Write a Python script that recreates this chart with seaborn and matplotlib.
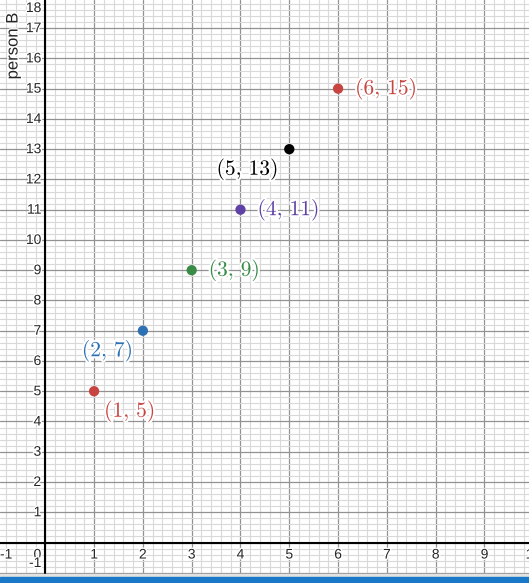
import matplotlib
matplotlib.use('Agg')
import matplotlib.pyplot as plt
import matplotlib.patheffects as pe
import seaborn as sns
import pandas as pd
from matplotlib.ticker import MultipleLocator
from matplotlib.patches import Rectangle

# ---- data ----
x_vals = [1, 2, 3, 4, 5, 6]
y_vals = [5, 7, 9, 11, 13, 15]
point_labels = [r'$(1,\,5)$', r'$(2,\,7)$', r'$(3,\,9)$', r'$(4,\,11)$', r'$(5,\,13)$', r'$(6,\,15)$']
point_colors = ['#c74440', '#2d70b3', '#388c46', '#6042a6', '#000000', '#c74440']
x_ticks = [-1, 0, 1, 2, 3, 4, 5, 6, 7, 8, 9, 10]
y_ticks = [-1, 1, 2, 3, 4, 5, 6, 7, 8, 9, 10, 11, 12, 13, 14, 15, 16, 17, 18]
y_axis_label = 'person B'

# label placement (pixel offsets, alignment)
label_place = [(10, -20, 'left'), (-10, -20, 'right'), (17, 0, 'left'),
               (17, 0, 'left'), (-11, -20, 'right'), (17, 0, 'left')]

sns.set_style('white')
plt.rcParams['mathtext.fontset'] = 'cm'
plt.rcParams['font.family'] = ['Liberation Sans', 'DejaVu Sans']

W, H = 529, 583
fig = plt.figure(figsize=(W / 100, H / 100), dpi=100)
plot_bottom_px = 574
ax = fig.add_axes([0, (H - plot_bottom_px) / H, 1, plot_bottom_px / H])

df = pd.DataFrame({'x': x_vals, 'y': y_vals, 'label': point_labels})
sns.scatterplot(data=df, x='x', y='y', hue='label', palette=point_colors,
                s=55, edgecolor='none', legend=False, ax=ax, zorder=5)

ax.set_xlim(-0.928, 9.912)
ax.set_ylim(-1.04, 17.93)
ax.xaxis.set_major_locator(MultipleLocator(1))
ax.yaxis.set_major_locator(MultipleLocator(1))
ax.xaxis.set_minor_locator(MultipleLocator(0.2))
ax.yaxis.set_minor_locator(MultipleLocator(0.2))
ax.grid(which='minor', color='#d9d9d9', lw=0.8, zorder=0)
ax.grid(which='major', color='#929292', lw=0.9, zorder=1)
ax.set_axisbelow(True)
ax.tick_params(which='both', length=0, labelbottom=False, labelleft=False)
for s in ax.spines.values():
    s.set_visible(False)
ax.set_xlabel('')
ax.set_ylabel('')
ax.axhline(0, color='black', lw=1.5, zorder=2)
ax.axvline(0, color='black', lw=1.5, zorder=2)

pt = 0.72  # points per pixel at 100 dpi
xl, xr = ax.get_xlim()
yb, yt = ax.get_ylim()
halo_small = [pe.withStroke(linewidth=2, foreground='white')]
halo = [pe.withStroke(linewidth=3, foreground='white')]

# x tick labels
for v in x_ticks:
    if v == 0:
        ax.annotate('0', xy=(0, 0), xytext=(-4 * pt, -12 * pt), textcoords='offset points',
                    ha='right', va='center', fontsize=10, path_effects=halo_small)
        continue
    xv = v
    ha = 'center'
    if v < xl:
        xv = xl
        ha = 'left'
    ax.annotate(str(v), xy=(xv, 0), xytext=(0, -12 * pt), textcoords='offset points',
                ha=ha, va='center', fontsize=10, annotation_clip=False,
                path_effects=halo_small)

# y tick labels
for v in y_ticks:
    yv = v
    dy = 0
    if v > yt - 0.2:
        yv = yt
        dy = -8
    if v < yb + 0.2:
        yv = yb
        dy = 11
    ax.annotate(str(v), xy=(0, yv), xytext=(-4 * pt, dy * pt), textcoords='offset points',
                ha='right', va='center', fontsize=10, annotation_clip=False,
                path_effects=halo_small)

# point labels
for xv, yv, lab, col, (dx, dy, ha) in zip(x_vals, y_vals, point_labels, point_colors, label_place):
    ax.annotate(lab, xy=(xv, yv), xytext=(dx * pt, dy * pt), textcoords='offset points',
                ha=ha, va='center', fontsize=15.5, color=col, zorder=6, path_effects=halo)

# axis title
fig.text(13 / W, 1 - 46 / H, y_axis_label, rotation=90, ha='center', va='center', fontsize=12,
         path_effects=halo_small)

# bottom strips
fig.patches.append(Rectangle((0, (H - 577) / H), 1, 3 / H, transform=fig.transFigure,
                             color='#e2e2e2', zorder=0))
fig.patches.append(Rectangle((0, 0), 1, 6 / H, transform=fig.transFigure,
                             color='#1a78c8', zorder=0))

fig.savefig('out.png', dpi=100)
